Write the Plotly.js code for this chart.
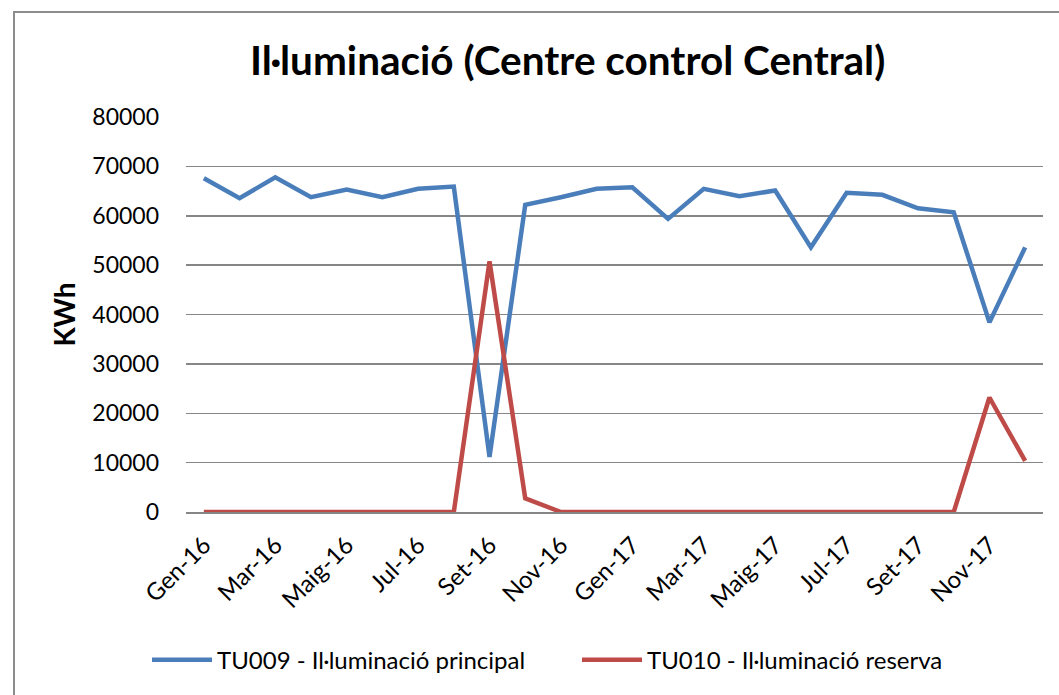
<!DOCTYPE html>
<html>
<head>
<meta charset="utf-8">
<script src="https://cdn.plot.ly/plotly-3.0.1.min.js"></script>
<style>
html,body{margin:0;padding:0;background:#fff;overflow:hidden;}
#wrap{position:relative;width:1059px;height:695px;overflow:hidden;}
#frame{position:absolute;left:13px;top:11px;width:1200px;height:900px;border:2px solid #8c8c8c;box-sizing:border-box;pointer-events:none;}
#chart{position:absolute;left:0;top:0;width:1059px;height:695px;}
</style>
</head>
<body>
<div id="wrap">
<div id="chart"></div>
<div id="frame"></div>
</div>
<script>
const months = ["Gen-16","Feb-16","Mar-16","Abr-16","Maig-16","Jun-16","Jul-16","Ago-16","Set-16","Oct-16","Nov-16","Des-16",
                "Gen-17","Feb-17","Mar-17","Abr-17","Maig-17","Jun-17","Jul-17","Ago-17","Set-17","Oct-17","Nov-17","Des-17"];
const tickLabels = ["Gen-16","Mar-16","Maig-16","Jul-16","Set-16","Nov-16","Gen-17","Mar-17","Maig-17","Jul-17","Set-17","Nov-17"];
const principal = [67600,63550,67800,63750,65300,63750,65450,65900,11150,62200,63750,65450,
                   65780,59370,65450,63960,65110,53600,64640,64240,61520,60710,38400,53600];
const reserva = [0,0,0,0,0,0,0,0,50770,2780,0,0,
                 0,0,0,0,0,0,0,0,0,0,23190,10340];
const seriesNames = ["TU009 - Il·luminació principal","TU010 - Il·luminació reserva"];
const titleText = "Il·luminació (Centre control Central)";
const yTitle = "KWh";

const FONT = "Lato, 'Open Sans', sans-serif";
const traces = [
  {x: months, y: principal, name: seriesNames[0], type: "scatter", mode: "lines",
   line: {color: "#4A7EBB", width: 4.5, shape: "linear"}},
  {x: months, y: reserva, name: seriesNames[1], type: "scatter", mode: "lines",
   line: {color: "#BE4B48", width: 4.5, shape: "linear"}}
];
const layout = {
  width: 1059, height: 695,
  margin: {l: 186, r: 16, t: 117, b: 183},
  paper_bgcolor: "rgba(0,0,0,0)", plot_bgcolor: "rgba(0,0,0,0)",
  font: {family: FONT, color: "#000", size: 23},
  title: {text: "<b>" + titleText + "</b>", font: {family: FONT, size: 40.5, color: "#000"},
          x: 0.536, xanchor: "center", xref: "container", y: 0.912, yanchor: "middle", yref: "container"},
  xaxis: {type: "category", range: [-0.5, 23.5], tickmode: "array",
          tickvals: months.filter((m, i) => i % 2 === 0), ticktext: tickLabels,
          tickangle: -45, showgrid: false, showline: true, linecolor: "#868686", linewidth: 1.5,
          ticks: "", zeroline: false, tickfont: {size: 24, family: FONT}, ticklabelstandoff: 8},
  yaxis: {range: [0, 80000], dtick: 10000, showgrid: true, gridcolor: "#868686", gridwidth: 1.5,
          zeroline: false, showline: false, ticks: "", ticklen: 0, tickfont: {size: 23, family: FONT},
          tickformat: "d", ticklabelstandoff: 26,
          title: {text: "<b>" + yTitle + "</b>", font: {size: 28, family: FONT}, standoff: 8}},
  showlegend: true,
  legend: {orientation: "h", x: 147/1059, xref: "container", xanchor: "left", y: 0.05, yref: "container", yanchor: "middle",
           font: {size: 24, family: FONT}, itemwidth: 60, entrywidth: 355, entrywidthmode: "pixels",
           tracegroupgap: 0, bgcolor: "rgba(0,0,0,0)"}
};
Plotly.newPlot("chart", traces, layout, {displayModeBar: false, staticPlot: true});
</script>
</body>
</html>
